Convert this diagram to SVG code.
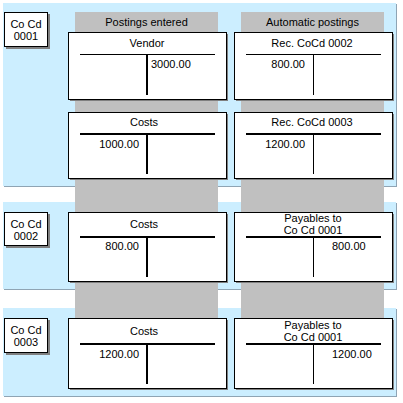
<svg xmlns="http://www.w3.org/2000/svg" width="403" height="403" viewBox="0 0 403 403">
<style>
text{font-family:"Liberation Sans",Arial,sans-serif;font-size:11px;fill:#000}
.panel{fill:#cceeff}
.pshadow{fill:#8fa4b4}
.col{fill:#c0c0c0}
.shadow{fill:#808080}
.box{fill:#fff;stroke:#000;stroke-width:1}
.thin{stroke:#000;stroke-width:1}
.thick{stroke:#000;stroke-width:2}
.c{text-anchor:middle}
.r{text-anchor:end}
</style>
<rect width="403" height="403" fill="#fff"/>
<g id="panels">
<rect class="pshadow" x="4" y="4" width="393" height="183"/>
<rect class="panel" x="3" y="3" width="393" height="183"/>
<rect class="pshadow" x="4" y="203" width="393" height="87"/>
<rect class="panel" x="3" y="202" width="393" height="87"/>
<rect class="pshadow" x="4" y="309" width="393" height="88"/>
<rect class="panel" x="3" y="308" width="393" height="88"/>
</g>
<g id="columns">
<rect class="col" x="75" y="12" width="143" height="374"/>
<rect class="col" x="241" y="12" width="143" height="374"/>
<text class="c" x="146.5" y="26">Postings entered</text>
<text class="c" x="312.5" y="26">Automatic postings</text>
</g>
<g id="cocd1">
<rect class="shadow" x="6" y="14" width="44" height="35"/>
<rect class="box" x="4.5" y="12.5" width="43" height="34"/>
<text class="c" x="26" y="28">Co Cd</text>
<text class="c" x="26" y="40">0001</text>
</g>
<g id="cocd2">
<rect class="shadow" x="6" y="214" width="44" height="34"/>
<rect class="box" x="4.5" y="212.5" width="43" height="33"/>
<text class="c" x="26" y="228">Co Cd</text>
<text class="c" x="26" y="240">0002</text>
</g>
<g id="cocd3">
<rect class="shadow" x="6" y="320" width="44" height="35"/>
<rect class="box" x="4.5" y="318.5" width="43" height="34"/>
<text class="c" x="26" y="334">Co Cd</text>
<text class="c" x="26" y="346">0003</text>
</g>
<g id="vendor">
<rect class="shadow" x="70" y="34" width="158" height="67"/>
<rect class="box" x="68.5" y="32.5" width="158" height="67"/>
<text class="c" x="147" y="47">Vendor</text>
<line class="thin" x1="80" y1="54.5" x2="215" y2="54.5"/>
<line class="thick" x1="147" y1="54" x2="147" y2="95"/>
<text x="151" y="68">3000.00</text>
</g>
<g id="rec0002">
<rect class="shadow" x="236" y="34" width="158" height="67"/>
<rect class="box" x="234.5" y="32.5" width="158" height="67"/>
<text class="c" x="312" y="47">Rec. CoCd 0002</text>
<line class="thin" x1="246" y1="54.5" x2="381" y2="54.5"/>
<line class="thin" x1="313.5" y1="54" x2="313.5" y2="95"/>
<text class="r" x="305" y="68">800.00</text>
</g>
<g id="costs1">
<rect class="shadow" x="70" y="114" width="158" height="66"/>
<rect class="box" x="68.5" y="112.5" width="158" height="66"/>
<text class="c" x="144" y="126">Costs</text>
<line class="thick" x1="80" y1="134" x2="215" y2="134"/>
<line class="thick" x1="147" y1="134" x2="147" y2="174"/>
<text class="r" x="139" y="148">1000.00</text>
</g>
<g id="rec0003">
<rect class="shadow" x="236" y="114" width="158" height="66"/>
<rect class="box" x="234.5" y="112.5" width="158" height="66"/>
<text class="c" x="312" y="126">Rec. CoCd 0003</text>
<line class="thick" x1="246" y1="134" x2="381" y2="134"/>
<line class="thin" x1="313.5" y1="134" x2="313.5" y2="174"/>
<text class="r" x="305" y="148">1200.00</text>
</g>
<g id="costs2">
<rect class="shadow" x="70" y="214" width="158" height="69"/>
<rect class="box" x="68.5" y="212.5" width="158" height="69"/>
<text class="c" x="144" y="228">Costs</text>
<line class="thick" x1="80" y1="237" x2="215" y2="237"/>
<line class="thick" x1="147" y1="237" x2="147" y2="277"/>
<text class="r" x="139" y="250">800.00</text>
</g>
<g id="payables2">
<rect class="shadow" x="236" y="214" width="158" height="69"/>
<rect class="box" x="234.5" y="212.5" width="158" height="69"/>
<text class="c" x="313" y="222">Payables to</text>
<text class="c" x="313" y="234">Co Cd 0001</text>
<line class="thick" x1="246" y1="237" x2="381" y2="237"/>
<line class="thin" x1="313.5" y1="237" x2="313.5" y2="277"/>
<text x="332" y="250">800.00</text>
</g>
<g id="costs3">
<rect class="shadow" x="70" y="320" width="158" height="70"/>
<rect class="box" x="68.5" y="318.5" width="158" height="70"/>
<text class="c" x="144" y="335">Costs</text>
<line class="thick" x1="80" y1="344" x2="215" y2="344"/>
<line class="thick" x1="147" y1="344" x2="147" y2="384"/>
<text class="r" x="139" y="358">1200.00</text>
</g>
<g id="payables3">
<rect class="shadow" x="236" y="320" width="158" height="70"/>
<rect class="box" x="234.5" y="318.5" width="158" height="70"/>
<text class="c" x="313" y="329">Payables to</text>
<text class="c" x="313" y="341">Co Cd 0001</text>
<line class="thick" x1="246" y1="344" x2="381" y2="344"/>
<line class="thin" x1="313.5" y1="344" x2="313.5" y2="384"/>
<text x="332" y="358">1200.00</text>
</g>
<g id="connectors"/>
</svg>
